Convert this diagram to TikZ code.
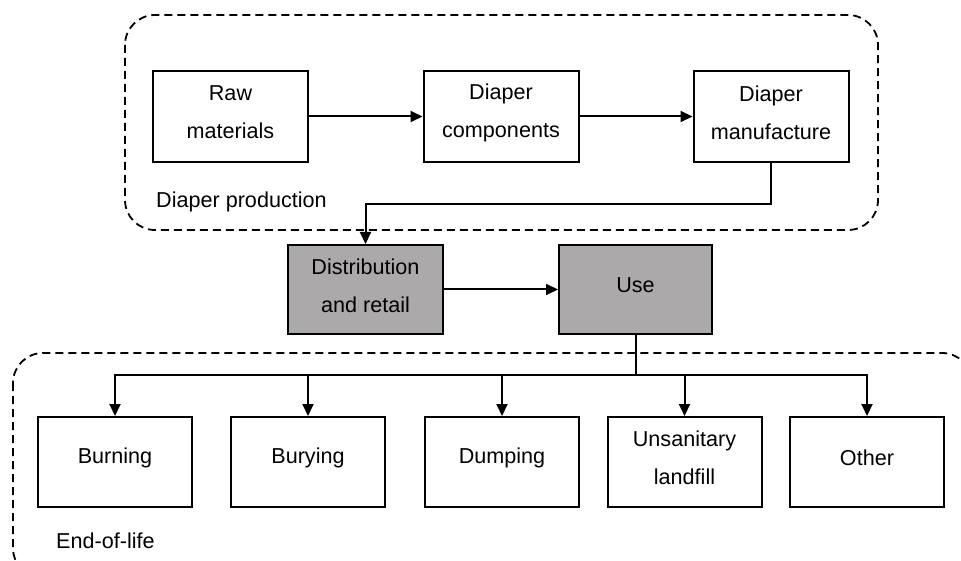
\documentclass[tikz,border=0pt]{standalone}
\usepackage{fontspec}
\setmainfont{Liberation Sans}
\usetikzlibrary{arrows.meta}
\definecolor{boxgray}{RGB}{171,169,170}
\begin{document}
\begin{tikzpicture}[x=1pt,y=-1pt,
  every node/.style={font=\fontsize{21.6}{38}\selectfont},
  box/.style={draw=black,line width=2pt,fill=white,minimum width=155pt,minimum height=91pt,inner sep=0pt},
  graybox/.style={box,fill=boxgray,minimum height=89pt},
  lbl/.style={align=center,yshift=4pt,inner sep=0pt},
  arr/.style={line width=2pt,-{Triangle[length=12pt,width=11pt]}},
  conn/.style={line width=2pt},
  group/.style={line width=1.8pt,dash pattern=on 8pt off 5pt,rounded corners=30pt}
]
\useasboundingbox (0,0) rectangle (961,561);

% grouping frames
\draw[group] (125,15) rectangle (878,230);
\begin{scope}
  \clip (0,0) rectangle (961,561);
  \draw[group] (13,353) rectangle (972,578);
\end{scope}

% production chain
\node[box,label={[lbl]center:Raw\\materials}] (raw) at (230.5,116.5) {};
\node[box,label={[lbl]center:Diaper\\components}] (comp) at (501,116.5) {};
\node[box,label={[lbl]center:Diaper\\manufacture}] (manu) at (771,116.5) {};
\node[anchor=base west,inner sep=0pt] (prodlbl) at (156,208) {Diaper production};

% distribution and use
\node[graybox,label={[lbl]center:Distribution\\and retail}] (dist) at (365.5,289.5) {};
\node[graybox,minimum width=153pt,label={[lbl]center:Use}] (use) at (635.5,289.5) {};

% end-of-life options
\node[box,minimum width=154pt,minimum height=90pt,label={[lbl]center:Burning}] (burn) at (115,462) {};
\node[box,minimum width=154pt,minimum height=90pt,label={[lbl]center:Burying}] (bury) at (308,462) {};
\node[box,minimum width=154pt,minimum height=90pt,label={[lbl]center:Dumping}] (dump) at (502,462) {};
\node[box,minimum width=154pt,minimum height=90pt,label={[lbl]center:Unsanitary\\landfill}] (landf) at (684.5,462) {};
\node[box,minimum width=154pt,minimum height=90pt,label={[lbl]center:Other}] (other) at (867,462) {};
\node[anchor=base west,inner sep=0pt] (eollbl) at (56,548) {End-of-life};

% connectors
\draw[arr] (raw) -- (comp);
\draw[arr] (comp) -- (manu);
\draw[arr] (manu.south) -- ++(0,41) -| (dist.north);
\draw[arr] (dist) -- (use);
\coordinate (hub) at (use.south |- 0,375);
\draw[conn] (use.south) -- (hub);
\draw[arr] (hub) -| (burn.north);
\draw[arr] (hub) -| (bury.north);
\draw[arr] (hub) -| (dump.north);
\draw[arr] (hub) -| (landf.north);
\draw[arr] (hub) -| (other.north);
\end{tikzpicture}
\end{document}
